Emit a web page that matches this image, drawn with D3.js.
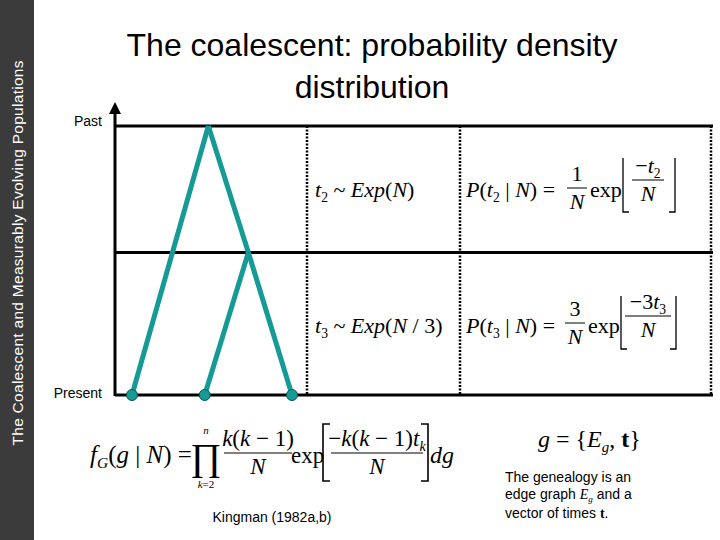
<!DOCTYPE html>
<html><head><meta charset="utf-8">
<script src="https://cdn.jsdelivr.net/npm/d3@7"></script>
<style>body{margin:0;background:#fff}</style>
</head><body>
<script>
const WIDTH = 720, HEIGHT = 540;

// coalescent tree: leaves at time 0, internal nodes at the t3 and t2 coalescence times
var leafX = [0, 1, 2.2];
var nodeNames = ['a','b','c','m','r'];
var nodeX = [0, 1, 2.2, 1.6, 1.05];
var nodeTime = [0, 0, 0, 1.06, 2];
var edges = [['r','a'],['r','m'],['m','b'],['m','c']];
var levelLines = [0, 1.06, 2];
var columnBreaks = [1, 2, 3];
var levelLabels = ['Present', 'Past'];
var title = ['The coalescent: probability density', 'distribution'];
var sideText = 'The Coalescent and Measurably Evolving Populations';

var svg = d3.select('body').append('svg').attr('width', WIDTH).attr('height', HEIGHT)
	.style('font-family', 'Liberation Sans, Arial, sans-serif');

// side bar
svg.append('rect').attr('x',0).attr('y',0).attr('width',34).attr('height',HEIGHT).attr('fill','#3b3b3b');
svg.append('text').attr('transform','translate(23,253) rotate(-90)').attr('text-anchor','middle')
	.attr('fill','#fff').attr('font-size',15.5).attr('textLength',385).text(sideText);

// title
svg.selectAll('.title').data(title).enter().append('text')
	.attr('x',372).attr('y',function(d,i){return 56+i*42})
	.attr('text-anchor','middle').attr('font-size',32).attr('fill','#000').text(function(d){return d});

var yScale = d3.scaleLinear().domain([0,2]).range([395,126]);
var xScale = d3.scaleLinear().domain([0,2.2]).range([132,292]);
var colScale = d3.scaleLinear().domain([0,1,2,3]).range([115,307,460,711]);

// level lines
svg.selectAll('.lvl').data(levelLines).enter().append('line')
	.attr('x1',115).attr('x2',713).attr('y1',function(d){return yScale(d)}).attr('y2',function(d){return yScale(d)})
	.attr('stroke','#000').attr('stroke-width',3);
// axis with arrow
svg.append('defs').append('marker').attr('id','arr').attr('viewBox','0 0 10 10').attr('refX',5).attr('refY',5)
	.attr('markerWidth',4).attr('markerHeight',4).attr('orient','auto')
	.append('path').attr('d','M0,0L10,5L0,10z').attr('fill','#000');
svg.append('line').attr('x1',115).attr('x2',115).attr('y1',yScale(0)+1).attr('y2',108)
	.attr('stroke','#000').attr('stroke-width',3).attr('marker-end','url(#arr)');
// dotted columns
svg.selectAll('.col').data(columnBreaks).enter().append('line')
	.attr('x1',function(d){return colScale(d)}).attr('x2',function(d){return colScale(d)})
	.attr('y1',yScale(2)).attr('y2',yScale(0))
	.attr('stroke','#000').attr('stroke-width',2.5).attr('stroke-dasharray','2,1.5');

svg.selectAll('.lab').data(levelLabels).enter().append('text')
	.attr('x',102).attr('y',function(d,i){return (i==0?yScale(0)+3:yScale(2)+0)})
	.attr('text-anchor','end').attr('font-size',14).text(function(d){return d});

// tree
var pos = {};
nodeNames.forEach(function(n,i){pos[n]=[xScale(nodeX[i]), yScale(nodeTime[i])]});
svg.selectAll('.edge').data(edges).enter().append('line')
	.attr('x1',function(d){return pos[d[0]][0]}).attr('y1',function(d){return pos[d[0]][1]})
	.attr('x2',function(d){return pos[d[1]][0]}).attr('y2',function(d){return pos[d[1]][1]})
	.attr('stroke','#169a96').attr('stroke-width',5);
svg.selectAll('.leaf').data(leafX).enter().append('circle')
	.attr('cx',function(d){return xScale(d)}).attr('cy',yScale(0)).attr('r',5.5)
	.attr('fill','#169a96').attr('stroke','#0a5550').attr('stroke-width',1);

// formulas
var serif = 'Liberation Serif, Times New Roman, serif';
function eq(x, y, parts, size){
	var t = svg.append('text').attr('x',x).attr('y',y).attr('font-family',serif).attr('font-size',size||22);
	parts.forEach(function(p){
		var s = t.append('tspan').text(p[0]);
		if(p[1]=='i') s.attr('font-style','italic');
		if(p[1]=='b') s.attr('font-weight','bold');
		if(p[1]=='sub') s.attr('font-size',(size||22)*0.62).attr('dy',5);
		if(p[1]=='isub') s.attr('font-size',(size||22)*0.62).attr('dy',5).attr('font-style','italic');
		if(p[2]) s.attr('dy',p[2]);
	});
	return t;
}
function frac(x, y, num, den, w, size){
	eq(x, y-9, num, size).attr('text-anchor','middle');
	eq(x, y+19, den, size).attr('text-anchor','middle');
	svg.append('line').attr('x1',x-w/2).attr('x2',x+w/2).attr('y1',y-2).attr('y2',y-2).attr('stroke','#000').attr('stroke-width',1);
}
function brackets(x1, x2, y1, y2, w){
	[[x1,1],[x2,-1]].forEach(function(b){
		svg.append('path').attr('d','M'+(b[0]+b[1]*w)+','+y1+'L'+b[0]+','+y1+'L'+b[0]+','+y2+'L'+(b[0]+b[1]*w)+','+y2)
			.attr('fill','none').attr('stroke','#000').attr('stroke-width',1.6);
	});
}
function floors(x1, x2, y1, y2){
	[[x1,1],[x2,-1]].forEach(function(b){
		svg.append('path').attr('d','M'+b[0]+','+y1+'L'+b[0]+','+y2+'L'+(b[0]+b[1]*6)+','+y2)
			.attr('fill','none').attr('stroke','#000').attr('stroke-width',1.3);
	});
}
// row 1
eq(315,197,[['t','i'],['2','sub'],[' ~ ',null,-5],['Exp','i'],['(',null],['N','i'],[')',null]]);
eq(466,197,[['P','i'],['(',null],['t','i'],['2','sub'],[' | ',null,-5],['N','i'],[') =',null]]);
frac(577,190,[['1',null]],[['N','i']],20,22);
eq(590,197,[['exp',null]],22);
floors(623,675,158,212);
frac(648,182,[['−',null],['t','i'],['2','sub']],[['N','i']],32,22);
// row 2
eq(315,333,[['t','i'],['3','sub'],[' ~ ',null,-5],['Exp','i'],['(',null],['N','i'],[' / 3)',null]]);
eq(466,333,[['P','i'],['(',null],['t','i'],['3','sub'],[' | ',null,-5],['N','i'],[') =',null]]);
frac(575,325,[['3',null]],[['N','i']],20,22);
eq(588,333,[['exp',null]],22);
floors(621,676,296,349);
frac(648,318,[['−3',null],['t','i'],['3','sub']],[['N','i']],46,22);

// bottom formula
eq(90,463,[['f','i'],['G','isub'],['(',null,-5],['g','i'],[' | ',null],['N','i'],[') =',null]],25);
svg.append('text').attr('x',206).attr('y',470).attr('text-anchor','middle').attr('font-family',serif).attr('font-size',38).text('∏');
eq(206,434,[['n','i']],11).attr('text-anchor','middle');
eq(206,488,[['k','i'],['=2',null]],11).attr('text-anchor','middle');
frac(258,455,[['k','i'],['(',null],['k','i'],[' − 1)',null]],[['N','i']],68,23);
eq(291,463,[['exp',null]],23);
brackets(323,428,424,481,7);
frac(377,455,[['−',null],['k','i'],['(',null],['k','i'],[' − 1)',null],['t','i'],['k','isub']],[['N','i']],92,23);
eq(430,463,[['dg','i']],24);

eq(538,447,[['g','i'],[' = {',null],['E','i'],['g','isub'],[', ',null,-5],['t','b'],['}',null]],24);

svg.append('text').attr('x',272).attr('y',522).attr('text-anchor','middle').attr('font-size',14).text('Kingman (1982a,b)');
var note = svg.append('text').attr('font-size',14).attr('x',505);
note.append('tspan').attr('x',505).attr('y',482).text('The genealogy is an');
note.append('tspan').attr('x',505).attr('y',499).text('edge graph ');
note.append('tspan').attr('font-family',serif).attr('font-style','italic').text('E');
note.append('tspan').attr('font-family',serif).attr('font-style','italic').attr('font-size',9).attr('dy',3).text('g');
note.append('tspan').attr('dy',-3).text(' and a');
note.append('tspan').attr('x',505).attr('y',518).text('vector of times ');
note.append('tspan').attr('font-family',serif).attr('font-weight','bold').text('t');
note.append('tspan').text('.');
</script>
</body></html>
